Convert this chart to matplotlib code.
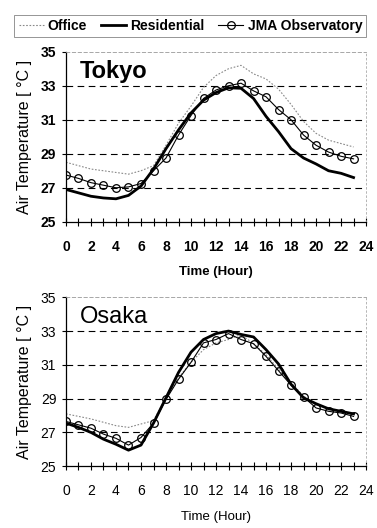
import numpy as np
import matplotlib.pyplot as plt

hours = np.arange(24)

tokyo_office = [28.5, 28.3, 28.1, 28.0, 27.9, 27.8, 28.0, 28.3, 29.5, 30.8, 31.8, 32.9,
                33.6, 34.0, 34.2, 33.7, 33.4, 32.8, 31.9, 30.9, 30.2, 29.8, 29.6, 29.4]
tokyo_resid = [26.9, 26.7, 26.5, 26.4, 26.35, 26.55, 27.1, 28.1, 29.3, 30.4, 31.4, 32.15,
               32.6, 32.88, 32.85, 32.25, 31.2, 30.3, 29.3, 28.75, 28.4, 28.0, 27.85, 27.6]
tokyo_jma = [27.75, 27.55, 27.3, 27.15, 27.0, 27.05, 27.25, 28.0, 28.75, 30.1, 31.25, 32.25,
             32.75, 33.0, 33.15, 32.7, 32.35, 31.6, 31.0, 30.1, 29.5, 29.1, 28.85, 28.7]

osaka_office = [28.1, 27.95, 27.8, 27.6, 27.4, 27.3, 27.5, 27.7, 29.05, 30.25, 31.15, 31.9,
                32.3, 32.5, 32.8, 32.25, 31.6, 30.75, 29.95, 29.15, 28.7, 28.4, 28.25, 28.05]
osaka_resid = [27.55, 27.3, 27.0, 26.6, 26.3, 25.95, 26.25, 27.55, 29.05, 30.55, 31.75, 32.5,
               32.85, 33.0, 32.8, 32.65, 31.9, 31.05, 29.85, 29.05, 28.7, 28.4, 28.25, 28.1]
osaka_jma = [27.65, 27.45, 27.25, 26.9, 26.65, 26.25, 26.7, 27.55, 28.95, 30.15, 31.15, 32.3,
             32.5, 32.85, 32.5, 32.25, 31.5, 30.65, 29.8, 29.1, 28.45, 28.25, 28.15, 27.95]

cities = ["Tokyo", "Osaka"]
xticks = np.arange(0, 25, 2)
yticks = np.arange(25, 36, 2)

plt.rcParams['font.family'] = ['Liberation Sans', 'DejaVu Sans']

fig = plt.figure(figsize=(3.77, 5.28), dpi=100)
ax1 = fig.add_axes([0.175, 0.580, 0.796, 0.322])
ax2 = fig.add_axes([0.175, 0.117, 0.796, 0.320])

data = [(tokyo_office, tokyo_resid, tokyo_jma), (osaka_office, osaka_resid, osaka_jma)]
weights = ['bold', 'normal']

for ax, city, (off, res, jma), w in zip([ax1, ax2], cities, data, weights):
    for yv in [27, 29, 31, 33]:
        ax.axhline(yv, color='black', lw=0.8, ls=(0, (6, 4)), zorder=1)
    l1, = ax.plot(hours, off, color='#888888', lw=0.8, ls=(0, (1.5, 1.5)), zorder=2)
    l2, = ax.plot(hours, res, color='black', lw=2.0, zorder=3)
    l3, = ax.plot(hours, jma, color='black', lw=0.8, marker='o', ms=5.5,
                  mfc='none', mec='black', mew=0.9, zorder=4)
    ax.set_xlim(0, 24)
    ax.set_ylim(25, 35)
    ax.set_xticks(xticks)
    ax.set_xticks(np.arange(0, 25, 1), minor=True)
    ax.set_yticks(yticks)
    ax.tick_params(axis='x', which='both', direction='inout', length=6, width=0.8, pad=10)
    ax.tick_params(axis='y', direction='out', length=3, width=0.8, pad=4)
    for lab in ax.get_xticklabels() + ax.get_yticklabels():
        lab.set_fontsize(10)
        lab.set_fontweight(w)
    ax.spines['top'].set_linestyle((0, (4, 3)))
    ax.spines['top'].set_color('#999999')
    ax.spines['top'].set_linewidth(0.6)
    ax.spines['right'].set_linestyle((0, (2, 3)))
    ax.spines['right'].set_color('#aaaaaa')
    ax.spines['right'].set_linewidth(0.6)
    ax.spines['left'].set_linewidth(0.9)
    ax.spines['bottom'].set_linewidth(0.9)
    ax.set_ylabel("Air Temperature [ °C ]", fontsize=11.5, labelpad=6)
    ax.set_xlabel("Time (Hour)", fontsize=9.5, fontweight=w, labelpad=9)
    ax.text(1.1, 34.5, city, fontsize=17, fontweight=w, va='top', ha='left')

leg = fig.legend([l1, l2, l3], ["Office", "Residential", "JMA Observatory"],
                 loc='upper left', bbox_to_anchor=(0.02, 0.985), ncol=3,
                 frameon=True, fancybox=False, edgecolor='#666666',
                 prop={'weight': 'bold', 'size': 10}, handlelength=1.8,
                 handletextpad=0.3, columnspacing=1.0, borderpad=0.3)
leg.get_frame().set_linewidth(0.6)

fig.savefig("out.png", dpi=100)
